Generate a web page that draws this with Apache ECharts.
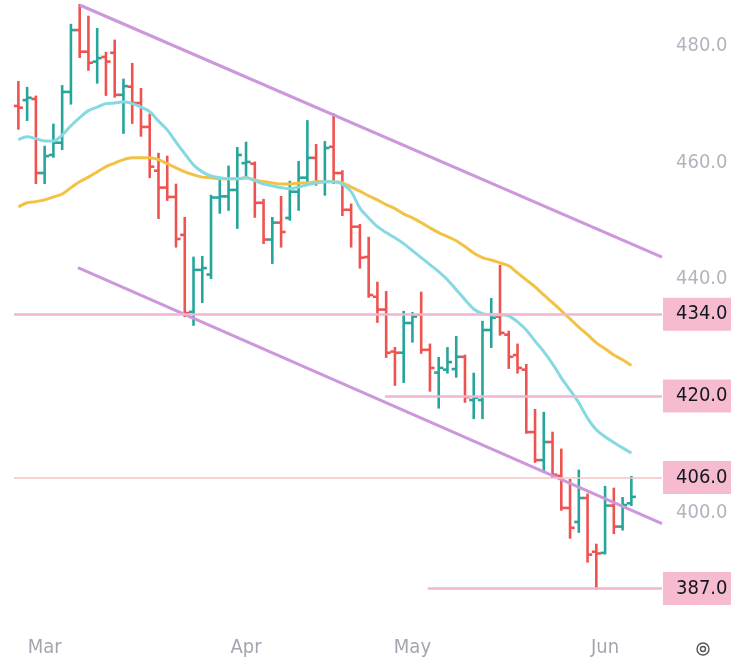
<!DOCTYPE html>
<html>
<head>
<meta charset="utf-8">
<script src="https://cdn.jsdelivr.net/npm/echarts@6/dist/echarts.min.js"></script>
<style>
html,body{margin:0;padding:0;background:#ffffff;}
#chart{width:743px;height:666px;}
</style>
</head>
<body>
<div id="chart"></div>
<script>
// ---------- data ----------
const dates = [
  '02-24','02-25','02-28',
  '03-01','03-02','03-03','03-04','03-07','03-08','03-09','03-10','03-11','03-14','03-15','03-16','03-17','03-18','03-21','03-22','03-23','03-24','03-25','03-28','03-29','03-30','03-31',
  '04-01','04-04','04-05','04-06','04-07','04-08','04-11','04-12','04-13','04-14','04-18','04-19','04-20','04-21','04-22','04-25','04-26','04-27','04-28',
  '05-02','05-03','05-04','05-05','05-06','05-09','05-10','05-11','05-12','05-13','05-16','05-17','05-18','05-19','05-20','05-23','05-24','05-25','05-26','05-27','05-30','05-31',
  '06-01','06-02','06-03','06-06',
  '06-07','06-08','06-09'
];
const monthNames = {'03':'Mar','04':'Apr','05':'May','06':'Jun'};
const monthStarts = [3, 26, 45, 67];

const open  = [469.7,470.7,470.9,458.2,461.3,463.4,472.1,482.7,479.0,477.3,
               478.1,478.8,471.6,473.0,470.2,466.1,458.6,455.7,454.1,447.6,
               434.4,441.6,440.8,454.0,454.2,455.3,459.9,459.8,453.1,446.8,
               449.7,450.5,455.0,457.4,460.8,456.7,462.7,458.2,451.9,449.0,
               443.8,437.0,434.8,427.6,427.4,432.5,433.9,427.9,424.0,424.5,
               424.6,426.7,419.3,419.3,431.3,433.6,430.5,427.0,424.5,413.8,
               409.0,412.1,406.3,400.8,398.4,402.5,393.3,393.1,401.2,397.6,
               401.6];
const high  = [473.8,472.8,471.3,462.7,466.5,473.1,483.6,487.0,485.0,482.9,
               478.8,480.9,474.2,476.9,472.6,468.2,461.5,461.0,456.2,450.5,
               443.7,443.8,454.3,457.4,459.3,462.5,463.4,460.0,453.6,450.5,
               454.1,456.7,460.1,467.1,463.0,463.5,468.3,458.5,452.8,449.3,
               447.1,439.4,437.8,428.2,434.4,434.2,437.7,428.8,426.5,428.2,
               430.1,426.9,423.8,432.7,436.6,442.3,431.0,428.8,425.3,417.6,
               417.1,413.7,410.8,405.6,407.2,403.1,394.5,404.4,404.1,402.5,
               406.1];
const low   = [465.8,467.3,456.5,456.5,461.0,462.3,470.1,478.1,475.9,473.7,
               471.6,471.3,465.1,466.8,464.6,457.5,450.5,453.6,445.6,433.7,
               432.2,436.1,440.2,451.4,451.9,448.8,457.4,450.7,446.2,442.8,
               445.6,450.2,451.9,456.7,456.2,454.5,456.5,451.0,445.6,442.0,
               437.0,432.7,426.7,421.9,422.4,429.3,427.4,420.9,418.0,424.0,
               423.3,419.0,416.2,416.2,428.4,430.5,424.8,424.0,413.7,408.7,
               407.3,406.1,400.5,395.7,396.7,391.6,387.0,393.0,396.5,397.1,
               401.3];
const close = [469.4,471.1,458.2,461.1,463.4,472.1,482.7,479.0,477.1,477.9,
               477.3,471.6,473.1,470.2,466.1,459.3,455.7,454.1,446.9,434.2,
               441.6,441.9,454.0,454.2,455.3,461.3,460.1,453.1,446.8,449.7,
               448.1,455.0,457.4,460.8,456.7,462.5,458.2,451.9,449.0,443.7,
               437.3,434.8,427.4,427.4,432.5,433.6,427.9,424.8,424.8,425.8,
               426.7,419.8,419.7,431.3,433.4,430.8,426.7,424.8,413.8,409.0,
               412.1,406.5,400.8,397.4,402.5,392.8,393.0,401.2,397.6,401.3,
               402.7];

// moving averages
const maFast = [463.9,464.4,464.1,463.7,463.7,464.7,466.3,467.7,468.9,469.5,
                470.1,470.2,470.4,470.1,469.5,468.7,467.1,465.6,463.5,461.5,
                459.6,458.4,457.7,457.4,457.2,457.2,457.4,456.9,456.3,456.0,
                455.7,455.5,455.8,456.2,456.5,456.7,456.7,456.3,455.0,452.2,
                450.5,449.0,448.0,447.1,446.1,444.9,443.7,442.5,441.3,439.9,
                438.2,436.5,434.9,434.1,433.9,433.9,433.7,432.7,431.3,429.4,
                427.6,425.5,423.1,421.0,418.8,416.2,414.2,413.0,412.0,411.1,
                410.2];
const maSlow = [452.4,453.1,453.3,453.6,454.1,454.6,455.7,456.7,457.5,458.4,
                459.3,459.9,460.5,460.8,460.8,460.8,460.5,459.8,459.1,458.4,
                457.9,457.5,457.4,457.2,457.2,457.2,457.4,457.0,456.7,456.5,
                456.3,456.3,456.5,456.5,456.7,456.7,456.7,456.5,455.8,455.1,
                454.3,453.6,452.8,452.1,451.2,450.5,449.7,448.8,448.0,447.3,
                446.6,445.6,444.5,443.7,443.3,442.8,442.3,441.1,439.9,438.7,
                437.3,436.0,434.6,433.2,431.8,430.5,429.1,428.1,427.0,426.2,
                425.2];

// drawn trend channel (bar index, price)
const upperChannel = [[7, 487.0], [73.5, 443.8]];
const lowerChannel = [[6.8, 442.0], [73.5, 398.1]];

// horizontal levels: price and starting bar index
const levelPrices = [434, 420, 406, 387];
const levelStarts = [-0.5, 41.85, -0.5, 46.75];

const yTickLabels = [400, 440, 460, 480];

// ---------- chart ----------
const FONT = "'DejaVu Sans Condensed','Liberation Sans Narrow','DejaVu Sans',sans-serif";
const UP = '#26a69a', DOWN = '#ef5350';
const ohlcData = open.map((o, i) => [i, o, close[i], low[i], high[i]]);

const chart = echarts.init(document.getElementById('chart'), null, {renderer: 'canvas'});

const levelLines = levelPrices.map((p, k) => {
  const thin = p === 406;
  return [
    {name: p.toFixed(1), coord: [levelStarts[k], p],
     lineStyle: {color: thin ? '#f6c4c4' : '#f1b6cf', width: thin ? 1.5 : 2.6, type: 'solid'}},
    {coord: [73.5, p]}
  ];
});

chart.setOption({
  animation: false,
  backgroundColor: '#ffffff',
  grid: {left: 14, right: 81, top: 5, bottom: 36.7},
  xAxis: [
    {
      type: 'category', data: dates, boundaryGap: true,
      axisLine: {show: false}, axisTick: {show: false}, splitLine: {show: false},
      axisLabel: {
        interval: (idx) => monthStarts.includes(idx),
        formatter: (v) => monthNames[v.slice(0, 2)] || '',
        color: '#a3a6af', fontSize: 20, fontFamily: FONT, margin: 8
      }
    },
    {type: 'value', min: -0.5, max: 73.5, show: false}
  ],
  yAxis: {
    type: 'value', position: 'right', min: 380, max: 487, interval: 20, scale: true,
    axisLine: {show: false}, axisTick: {show: false}, splitLine: {show: false},
    axisLabel: {
      formatter: (v) => yTickLabels.includes(v) ? v.toFixed(1) : '',
      color: '#b2b5be', fontSize: 20, fontFamily: FONT, margin: 14,
      showMinLabel: true, showMaxLabel: true
    }
  },
  series: [
    {
      name: 'levels', type: 'line', xAxisIndex: 1, data: [], silent: true,
      markLine: {
        silent: true, symbol: ['none', 'none'], animation: false,
        label: {
          show: true, position: 'end', formatter: '{b}', distance: 1,
          backgroundColor: '#f7bbd0', color: '#131722', fontSize: 20, fontFamily: FONT,
          padding: [7, 3, 6, 13], width: 52, align: 'left'
        },
        emphasis: {disabled: true},
        data: levelLines
      }
    },
    {
      name: 'upper', type: 'line', xAxisIndex: 1, data: upperChannel, showSymbol: false,
      lineStyle: {color: '#cc97db', width: 3}, silent: true
    },
    {
      name: 'lower', type: 'line', xAxisIndex: 1, data: lowerChannel, showSymbol: false,
      lineStyle: {color: '#cc97db', width: 3}, silent: true
    },
    {
      name: 'MA slow', type: 'line', data: maSlow, showSymbol: false, smooth: 0.3,
      lineStyle: {color: '#f3c244', width: 3}, silent: true
    },
    {
      name: 'MA fast', type: 'line', data: maFast, showSymbol: false, smooth: 0.3,
      lineStyle: {color: '#86d9e2', width: 3}, silent: true
    },
    {
      name: 'OHLC', type: 'custom', data: ohlcData, encode: {x: 0, y: [1, 2, 3, 4]},
      renderItem: (params, api) => {
        const i = api.value(0);
        const o = api.coord([i, api.value(1)]);
        const c = api.coord([i, api.value(2)]);
        const l = api.coord([i, api.value(3)]);
        const h = api.coord([i, api.value(4)]);
        const w = api.size([1, 0])[0];
        const t = w * 0.52;
        const color = api.value(2) >= api.value(1) ? UP : DOWN;
        const style = {stroke: color, lineWidth: 2.6};
        return {type: 'group', children: [
          {type: 'line', shape: {x1: h[0], y1: h[1] - 1, x2: l[0], y2: l[1] + 1}, style},
          {type: 'line', shape: {x1: o[0] - t, y1: o[1], x2: o[0], y2: o[1]}, style},
          {type: 'line', shape: {x1: c[0], y1: c[1], x2: c[0] + t, y2: c[1]}, style}
        ]};
      }
    }
  ],
  graphic: [
    {type: 'circle', shape: {cx: 703, cy: 649, r: 6}, style: {fill: 'none', stroke: '#555', lineWidth: 1.4}},
    {type: 'circle', shape: {cx: 703, cy: 649, r: 2.5}, style: {fill: 'none', stroke: '#555', lineWidth: 1.4}}
  ]
});
</script>
</body>
</html>
